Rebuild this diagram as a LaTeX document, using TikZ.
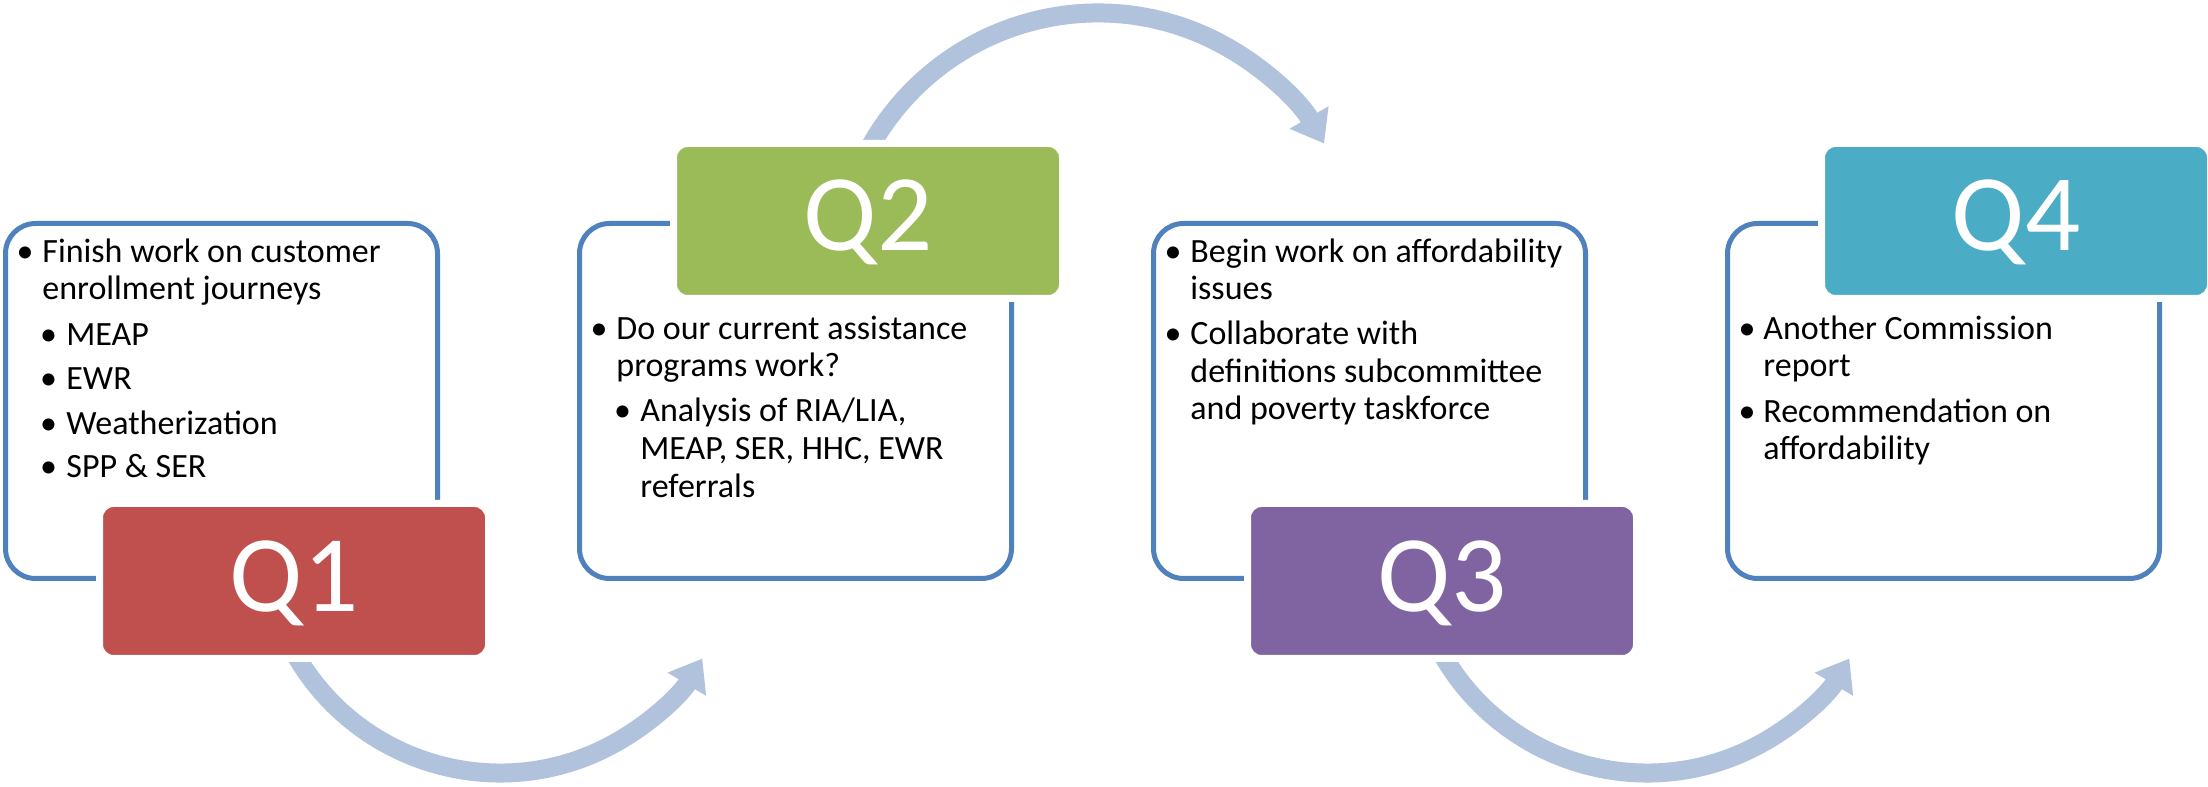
\documentclass[tikz,border=0pt]{standalone}
\usepackage{fontspec}
\setmainfont{Carlito}
\usetikzlibrary{arrows.meta,calc}
\definecolor{outl}{HTML}{4F81BD}
\definecolor{arrc}{HTML}{B1C2DD}
\definecolor{qone}{HTML}{C0504D}
\definecolor{qtwo}{HTML}{9BBB59}
\definecolor{qthree}{HTML}{8064A2}
\definecolor{qfour}{HTML}{4BACC6}
\tikzset{
  outlinebox/.style={draw=outl, line width=2.5pt, rounded corners=15pt, minimum width=216pt, minimum height=177.5pt, inner sep=0pt, fill=white},
  qbox/.style={draw=white, line width=3.5pt, rounded corners=7pt, minimum width=194.5pt, minimum height=77.5pt, inner sep=0pt},
  qlabel/.style={anchor=base, inner sep=0pt, text=white, font=\fontsize{54.5}{60}\selectfont},
  txt/.style={anchor=base west, inner sep=0pt, font=\fontsize{17}{20}\selectfont},
  bul/.style={anchor=base, inner sep=0pt, font=\fontsize{17}{20}\selectfont},
  bigarrow/.style={draw=arrc, line width=9.5pt, -{Triangle[length=15pt, width=21.5pt]}}
}
\begin{document}
\begin{tikzpicture}[x=0.5pt, y=0.5pt]
\useasboundingbox (0,0) rectangle (2208,787);
% outline boxes
\node[outlinebox] (o1) at (221.5,386) {};
\node[outlinebox] (o2) at (795.5,386) {};
\node[outlinebox] (o3) at (1369.5,386) {};
\node[outlinebox] (o4) at (1943.5,386) {};
% arrows
\coordinate (a1s) at ($(500,250)+(208:236)$);
\coordinate (a2s) at ($(1098,513)+(152:261)$);
\coordinate (a3s) at ($(1647,250)+(208:236)$);
\draw[bigarrow] (a1s) arc[start angle=208, end angle=329, radius=236];
\draw[bigarrow] (a2s) arc[start angle=152, end angle=30, radius=261];
\draw[bigarrow] (a3s) arc[start angle=208, end angle=329, radius=236];
% coloured boxes
\node[qbox, fill=qone] (q1) at (294,206) {};
\node[qbox, fill=qtwo] (q2) at (868,566) {};
\node[qbox, fill=qthree] (q3) at (1442,206) {};
\node[qbox, fill=qfour] (q4) at (2016,566) {};
\node[qlabel] (l1) at (294,175) {Q1};
\node[qlabel] (l2) at (868,536) {Q2};
\node[qlabel] (l3) at (1442,175) {Q3};
\node[qlabel] (l4) at (2016,536) {Q4};
% Q1 text
\node[bul] (b11) at (25,524) {•};
\node[txt] (t11) at (42,524) {Finish work on customer};
\node[txt] (t12) at (42,487) {enrollment journeys};
\node[bul] (b12) at (48.5,441) {•};
\node[txt] (t13) at (66,441) {MEAP};
\node[bul] (b13) at (48.5,397) {•};
\node[txt] (t14) at (66,397) {EWR};
\node[bul] (b14) at (48.5,352) {•};
\node[txt] (t15) at (66,352) {Weatherization};
\node[bul] (b15) at (48.5,309) {•};
\node[txt] (t16) at (66,309) {SPP \& SER};
% Q2 text
\node[bul] (b21) at (599,447) {•};
\node[txt] (t21) at (616,447) {Do our current assistance};
\node[txt] (t22) at (616,410) {programs work?};
\node[bul] (b22) at (622.5,365) {•};
\node[txt] (t23) at (640,365) {Analysis of RIA/LIA,};
\node[txt] (t24) at (640,327) {MEAP, SER, HHC, EWR};
\node[txt] (t25) at (640,289) {referrals};
% Q3 text
\node[bul] (b31) at (1173,524) {•};
\node[txt] (t31) at (1190,524) {Begin work on affordability};
\node[txt] (t32) at (1190,487) {issues};
\node[bul] (b32) at (1173,442) {•};
\node[txt] (t33) at (1190,442) {Collaborate with};
\node[txt] (t34) at (1190,404) {definitions subcommittee};
\node[txt] (t35) at (1190,367) {and poverty taskforce};
% Q4 text
\node[bul] (b41) at (1747,447) {•};
\node[txt] (t41) at (1763,447) {Another Commission};
\node[txt] (t42) at (1763,410) {report};
\node[bul] (b42) at (1747,364) {•};
\node[txt] (t43) at (1763,364) {Recommendation on};
\node[txt] (t44) at (1763,327) {affordability};
\end{tikzpicture}
\end{document}
